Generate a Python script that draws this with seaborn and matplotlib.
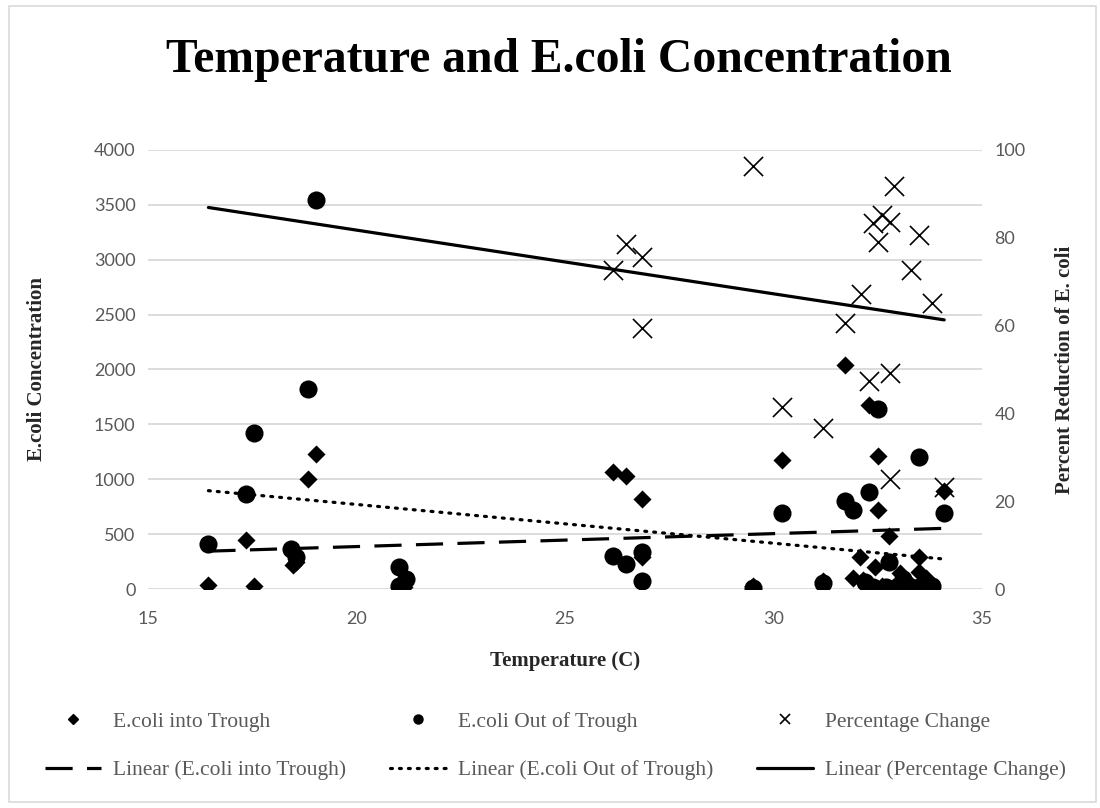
# ==========================================
# TEMPERATURE AND E.COLI CONCENTRATION
# ==========================================

import numpy as np
import pandas as pd
import matplotlib
matplotlib.use("Agg")
import matplotlib.pyplot as plt
from matplotlib.lines import Line2D
from matplotlib.patches import Rectangle
import seaborn as sns

# ==========================================
# DATA
# ==========================================

into_temp = [16.45, 17.34, 17.55, 18.47, 18.55, 18.84, 19.04, 21.03, 21.15,
             26.16, 26.46, 26.85, 26.85, 29.52, 30.21, 31.2, 31.71, 32.3,
             32.5, 34.1, 32.5, 32.78, 32.07, 33.49, 31.9, 32.43, 32.15,
             33.03, 33.5, 33.67, 32.6, 33.3]
into_conc = [36, 446, 27, 219, 245, 1005, 1230, 15, 15,
             1069, 1029, 817, 290, 25, 1175, 75, 2041, 1676,
             1212, 893, 720, 483, 289, 289, 97, 203, 82,
             143, 158, 97, 30, 40]

out_temp = [16.45, 17.34, 17.55, 18.44, 18.55, 18.84, 19.03, 21.03, 21.2,
            21.03, 26.16, 26.46, 26.85, 26.85, 29.52, 30.21, 31.2, 31.71,
            31.9, 32.3, 32.5, 33.49, 34.1, 32.78, 32.4, 32.7, 33.0, 33.3,
            33.5, 33.8, 32.2, 33.1]
out_conc = [407, 865, 1418, 362, 294, 1819, 3545, 203, 88,
            30, 300, 228, 335, 76, 8, 690, 52, 805,
            720, 886, 1640, 1205, 690, 250, 20, 15, 25, 20,
            15, 30, 60, 90]

pct_temp = [26.16, 26.46, 26.85, 26.85, 29.52, 30.21, 31.2, 31.71, 32.1,
            32.3, 32.4, 32.5, 32.6, 32.8, 32.8, 32.8, 32.9, 33.3, 33.49,
            33.8, 34.1]
pct_val = [72.7, 78.6, 75.7, 59.4, 96.4, 41.5, 36.6, 60.5, 67.1,
           47.4, 83.3, 79.1, 85.2, 83.7, 49.1, 25.0, 91.8, 72.7, 80.6,
           65.1, 23.3]

# linear trendline end points
trend_temp = [16.45, 34.1]
trend_into = [345, 553]
trend_out = [896, 273]
trend_pct = [86.9, 61.3]

# ==========================================
# STYLE
# ==========================================

sns.set_theme(style="white")
plt.rcParams["font.family"] = ["Liberation Serif", "DejaVu Serif"]
plt.rcParams["text.color"] = "black"

tick_color = "#595959"
grid_color = "#d9d9d9"

fig = plt.figure(figsize=(11, 8.08), dpi=100)
ax = fig.add_axes([0.1345, 0.271, 0.758, 0.5434])
ax2 = ax.twinx()

# ==========================================
# SCATTER SERIES
# ==========================================

sns.scatterplot(x=into_temp, y=into_conc, marker="D", s=85, color="black",
                linewidth=0, ax=ax, zorder=3)
sns.scatterplot(x=out_temp, y=out_conc, marker="o", s=170, color="black",
                linewidth=0, ax=ax, zorder=3)
sns.scatterplot(x=pct_temp, y=pct_val, marker="x", s=190, color="black",
                linewidth=1.2, ax=ax2, zorder=3)

# ==========================================
# TRENDLINES
# ==========================================

dash_style = (0, (8.5, 4.5))
dot_style = (0, (0.6, 2.2))

sns.lineplot(x=trend_temp, y=trend_into, color="black", lw=2.3, ax=ax,
             linestyle=dash_style, zorder=4)
l_out = sns.lineplot(x=trend_temp, y=trend_out, color="black", lw=2.3, ax=ax,
                     zorder=4).lines[-1]
l_out.set_linestyle(dot_style)
l_out.set_dash_capstyle("round")
sns.lineplot(x=trend_temp, y=trend_pct, color="black", lw=2.3, ax=ax2,
             zorder=4)

# ==========================================
# AXES
# ==========================================

ax.set_xlim(15, 35)
ax.set_xticks(np.arange(15, 36, 5))
ax.set_ylim(0, 4000)
ax.set_yticks(np.arange(0, 4001, 500))
ax2.set_ylim(0, 100)
ax2.set_yticks(np.arange(0, 101, 20))

for a in (ax, ax2):
    for s in a.spines.values():
        s.set_visible(False)
    a.tick_params(length=0, colors=tick_color, labelsize=13)
    for lab in a.get_xticklabels() + a.get_yticklabels():
        lab.set_fontfamily("Lato")

ax.tick_params(axis="x", pad=16)
ax.tick_params(axis="y", pad=9)
ax2.tick_params(axis="y", pad=9)

ax.yaxis.grid(True, color=grid_color, lw=1.3)
ax.xaxis.grid(False)
ax2.grid(False)

ax.set_xlabel("Temperature (C)", fontsize=15, fontweight="bold")
ax.set_ylabel("E.coli Concentration", fontsize=15, fontweight="bold")
ax2.set_ylabel("Percent Reduction of E. coli", fontsize=15, fontweight="bold")
ax.xaxis.set_label_coords(0.5, -0.14)
ax.yaxis.set_label_coords(-0.121, 0.5)
ax2.yaxis.set_label_coords(1.0875, 0.5)

fig.text(0.5077, 0.9113, "Temperature and E.coli Concentration",
         ha="center", va="baseline", fontsize=34.3, fontweight="bold")

# ==========================================
# LEGEND
# ==========================================

handles = [
    Line2D([], [], marker="D", ls="none", color="black", markersize=5),
    Line2D([], [], color="black", lw=2.3, linestyle=dash_style),
    Line2D([], [], marker="o", ls="none", color="black", markersize=6.5),
    Line2D([], [], color="black", lw=2.3, linestyle=dot_style,
           dash_capstyle="round"),
    Line2D([], [], marker="x", ls="none", color="black", markersize=7,
           markeredgewidth=1.2),
    Line2D([], [], color="black", lw=2.3),
]
labels = [
    "E.coli into Trough", "Linear (E.coli into Trough)",
    "E.coli Out of Trough", "Linear (E.coli Out of Trough)",
    "Percentage Change", "Linear (Percentage Change)",
]
leg = fig.legend(handles, labels, ncol=3, loc="center",
                 bbox_to_anchor=(0.0309, 0.0767, 0.9482, 0), mode="expand",
                 frameon=False, borderpad=0, handlelength=2.6,
                 handletextpad=0.56, labelspacing=1.3, fontsize=15.5)
for t in leg.get_texts():
    t.set_color(tick_color)

fig.patches.append(Rectangle((0.008, 0.008), 0.988, 0.984,
                             transform=fig.transFigure, fill=False,
                             edgecolor=grid_color, lw=1.2))

plt.savefig("out.png", dpi=100)
